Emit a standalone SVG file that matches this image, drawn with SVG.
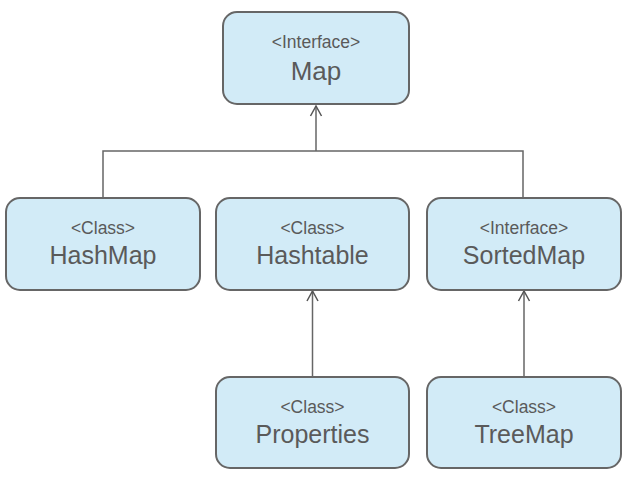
<svg xmlns="http://www.w3.org/2000/svg" width="631" height="483" viewBox="0 0 631 483">
<defs>
<style>
.box{fill:#d2ebf7;stroke:#666;stroke-width:2}
.st{font-family:"Liberation Sans",Arial,sans-serif;font-size:17.5px;fill:#5a5a5a;text-anchor:middle}
.nm{font-family:"Liberation Sans",Arial,sans-serif;font-size:25px;fill:#5a5a5a;text-anchor:middle}
.ln{fill:none;stroke:#666;stroke-width:1.5}
.ah{fill:none;stroke:#555;stroke-width:1.5}
</style>
</defs>
<rect width="631" height="483" fill="#fff"/>
<g id="connectors">
<path class="ln" d="M103 197 V151 H523 V197"/>
<path class="ln" d="M316 151 V106"/>
<path class="ah" d="M310.5 116 L316 106 L321.5 116"/>
<path class="ln" d="M312.5 376 V291"/>
<path class="ah" d="M307 301 L312.5 291 L318 301"/>
<path class="ln" d="M524 376 V291"/>
<path class="ah" d="M518.5 301 L524 291 L529.5 301"/>
</g>
<g id="map">
<rect class="box" x="223" y="12" width="186" height="92" rx="14"/>
<text class="st" x="316" y="48">&lt;Interface&gt;</text>
<text class="nm" x="316" y="80" style="font-size:26px">Map</text>
</g>
<g id="hashmap">
<rect class="box" x="6" y="198" width="194" height="92" rx="14"/>
<text class="st" x="103" y="234">&lt;Class&gt;</text>
<text class="nm" x="103" y="264">HashMap</text>
</g>
<g id="hashtable">
<rect class="box" x="216" y="198" width="193" height="92" rx="14"/>
<text class="st" x="312.5" y="234">&lt;Class&gt;</text>
<text class="nm" x="312.5" y="264">Hashtable</text>
</g>
<g id="sortedmap">
<rect class="box" x="427" y="198" width="194" height="92" rx="14"/>
<text class="st" x="524" y="234">&lt;Interface&gt;</text>
<text class="nm" x="524" y="264">SortedMap</text>
</g>
<g id="properties">
<rect class="box" x="216" y="377" width="193" height="91" rx="14"/>
<text class="st" x="312.5" y="413">&lt;Class&gt;</text>
<text class="nm" x="312.5" y="443">Properties</text>
</g>
<g id="treemap">
<rect class="box" x="427" y="377" width="194" height="91" rx="14"/>
<text class="st" x="524" y="413">&lt;Class&gt;</text>
<text class="nm" x="524" y="443">TreeMap</text>
</g>
</svg>
